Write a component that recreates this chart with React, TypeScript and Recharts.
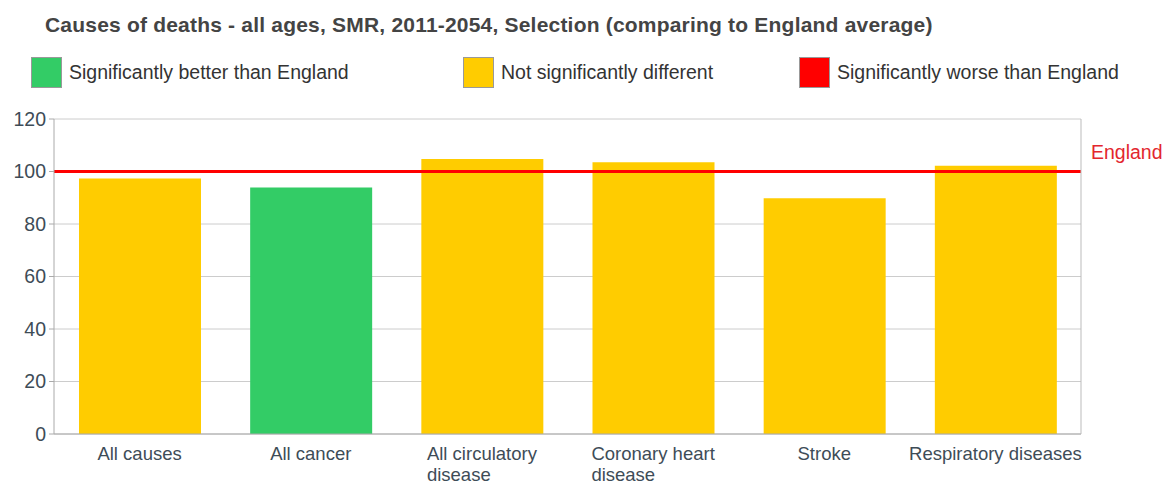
import React from 'react';
import { BarChart, Bar, Cell, XAxis, YAxis, CartesianGrid, ReferenceLine } from 'recharts';

// Categories (a "\n" marks where the axis label wraps)
const categories = [
  'All causes',
  'All cancer',
  'All circulatory\ndisease',
  'Coronary heart\ndisease',
  'Stroke',
  'Respiratory diseases',
];
const smrValues = [97.3, 93.9, 104.8, 103.5, 89.8, 102.2];
const significance = ['similar', 'better', 'similar', 'similar', 'similar', 'similar'];
const yTicks = [0, 20, 40, 60, 80, 100, 120];
const englandValue = 100;

const legendLabels = ['Significantly better than England', 'Not significantly different', 'Significantly worse than England'];
const legendKeys = ['better', 'similar', 'worse'];

const COLORS: Record<string, string> = {
  better: '#33cc66',
  similar: '#ffcc00',
  worse: '#ff0000',
};

const FONT = '"Liberation Sans", Arial, sans-serif';
const TICK_COLOR = '#3e4c57';
const LABEL_SIZE = 19.5;
const X_LABEL_SIZE = 18.5;

const data = categories.map((name, i) => ({ name, value: smrValues[i], sig: significance[i] }));

let canvas: HTMLCanvasElement | null = null;
const textWidth = (s: string) => {
  if (!canvas) canvas = document.createElement('canvas');
  const ctx = canvas.getContext('2d');
  if (!ctx) return s.length * 9;
  ctx.font = `${X_LABEL_SIZE}px ${FONT}`;
  return ctx.measureText(s).width;
};

const CategoryTick = (props: any) => {
  const { x, y, payload } = props;
  const lines = String(payload.value).split('\n');
  const baseY = y + 17.5;
  if (lines.length === 1) {
    return (
      <text x={x} y={baseY} textAnchor="middle" fill={TICK_COLOR} fontSize={X_LABEL_SIZE} fontFamily={FONT}>
        {lines[0]}
      </text>
    );
  }
  // multi-line labels are left-aligned to where the first line starts
  const left = x - textWidth(lines[0]) / 2;
  return (
    <text x={left} y={baseY} textAnchor="start" fill={TICK_COLOR} fontSize={X_LABEL_SIZE} fontFamily={FONT}>
      {lines.map((l, i) => (
        <tspan key={i} x={left} dy={i === 0 ? 0 : 21.4}>
          {l}
        </tspan>
      ))}
    </text>
  );
};

const legendX = [31, 463, 799];

export default function App() {
  return (
    <div style={{ position: 'relative', width: 1167, height: 485, fontFamily: FONT, background: '#fff' }}>
      <style>{'body{margin:0}'}</style>
      <BarChart width={1167} height={485} data={data} margin={{ top: 119, right: 0, left: 0, bottom: 0 }}>
        <CartesianGrid vertical={false} stroke="#cccccc" />
        <XAxis
          dataKey="name"
          height={51}
          interval={0}
          tickLine={false}
          axisLine={{ stroke: '#aaaaaa' }}
          tick={<CategoryTick />}
        />
        <YAxis
          width={54}
          domain={[0, 120]}
          ticks={yTicks}
          tickSize={5}
          tickMargin={3}
          axisLine={{ stroke: '#aaaaaa' }}
          tickLine={{ stroke: '#aaaaaa' }}
          tick={{ fill: TICK_COLOR, fontSize: LABEL_SIZE, fontFamily: FONT }}
        />
        <YAxis
          yAxisId="right"
          orientation="right"
          width={86}
          domain={[0, 120]}
          ticks={yTicks}
          tick={false}
          tickLine={false}
          axisLine={{ stroke: '#bbbbbb' }}
        />
        <Bar dataKey="value" barSize={122} isAnimationActive={false}>
          {data.map((d, i) => (
            <Cell key={i} fill={COLORS[d.sig]} />
          ))}
        </Bar>
        <ReferenceLine
          y={englandValue}
          stroke="#ff0000"
          strokeWidth={3}
          label={(p: any) => {
            const vb = p.viewBox || {};
            return (
              <text x={vb.x + vb.width + 10} y={vb.y - 13} fill="#e3262e" fontSize={LABEL_SIZE} fontFamily={FONT}>
                England
              </text>
            );
          }}
        />
      </BarChart>
      <div
        style={{
          position: 'absolute',
          left: 45,
          top: 13,
          fontSize: 21,
          letterSpacing: 0.2,
          fontWeight: 'bold',
          color: '#444444',
          whiteSpace: 'nowrap',
        }}
      >
        Causes of deaths - all ages, SMR, 2011-2054, Selection (comparing to England average)
      </div>
      {legendKeys.map((k, i) => (
        <div
          key={k}
          style={{ position: 'absolute', left: legendX[i], top: 57, height: 31, display: 'flex', alignItems: 'center' }}
        >
          <div
            style={{
              width: 29,
              height: 29,
              background: COLORS[k],
              border: '1px solid #999999',
              marginRight: 7,
            }}
          />
          <span style={{ fontSize: LABEL_SIZE, color: '#333333', whiteSpace: 'nowrap' }}>{legendLabels[i]}</span>
        </div>
      ))}
    </div>
  );
}
